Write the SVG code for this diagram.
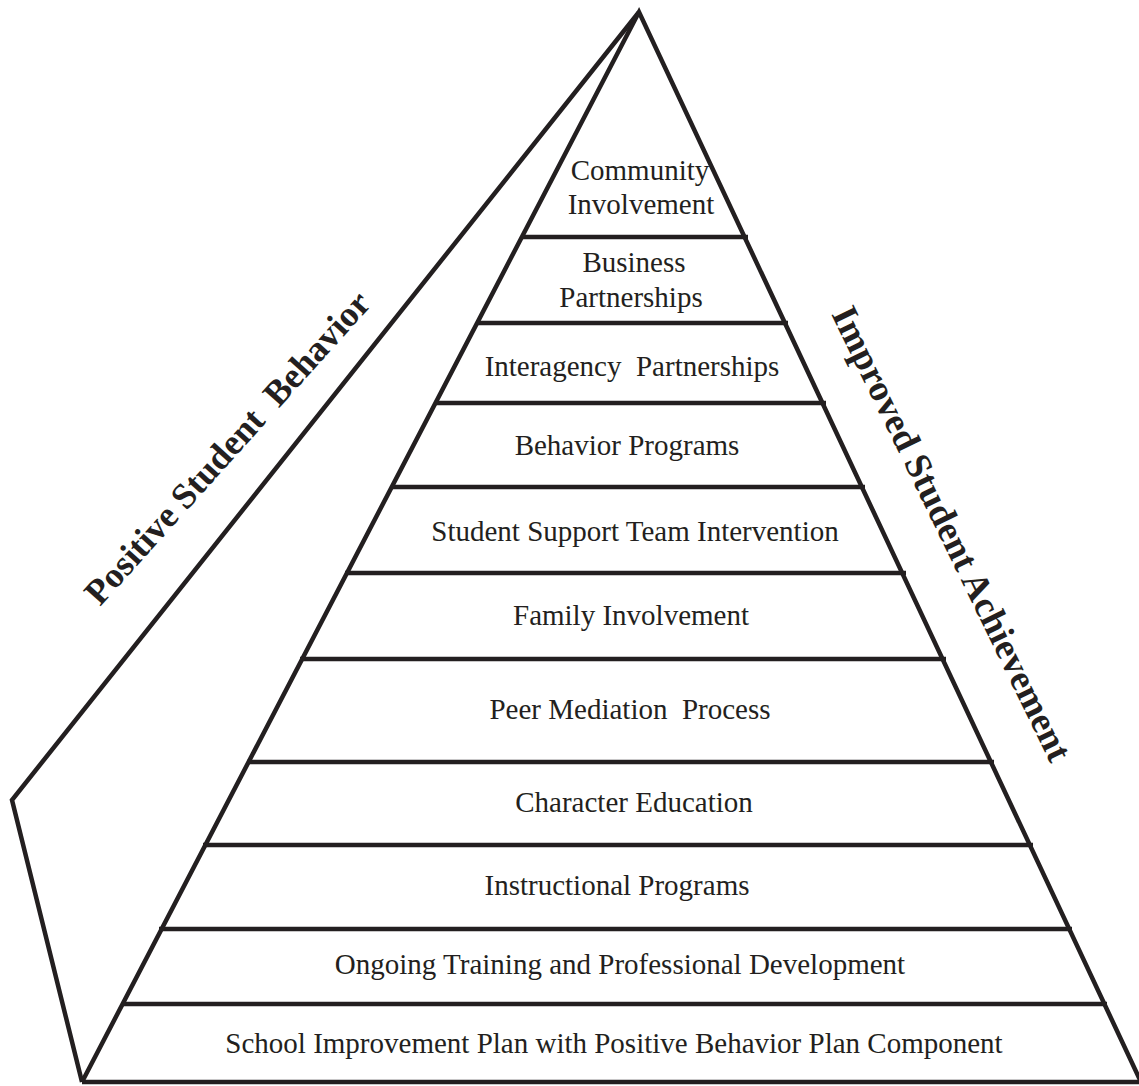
<svg xmlns="http://www.w3.org/2000/svg" width="1139" height="1086" viewBox="0 0 1139 1086">
<style>
.ln{stroke:#231f20;stroke-width:4.5;fill:none;stroke-linejoin:miter;stroke-linecap:butt}
.t{font-family:"Liberation Serif","Times New Roman",serif;font-size:29px;fill:#231f20;text-anchor:middle}
.b{font-family:"Liberation Serif","Times New Roman",serif;font-size:36px;font-weight:bold;fill:#231f20}
</style>
<rect width="1139" height="1086" fill="#fff"/>
<g id="connectors">
<path class="ln" d="M639,12 L12,800 L82,1082"/>
<path class="ln" d="M82,1082 L639,12 L1141,1082"/>
<path class="ln" d="M82,1082 H1139"/>
<path class="ln" d="M522,237 H748 M477,323 H788 M435,403 H826 M392,487 H865 M345,573 H906 M300,659 H946 M247,762 H994 M203,845 H1033 M159,929 H1072 M123,1004 H1107"/>
</g>
<g id="tier-community"><text class="t" x="640" y="180">Community</text><text class="t" x="641" y="214">Involvement</text></g>
<g id="tier-business"><text class="t" x="634" y="272">Business</text><text class="t" x="631" y="307">Partnerships</text></g>
<g id="tier-interagency"><text class="t" x="632" y="376">Interagency&#160; Partnerships</text></g>
<g id="tier-behavior"><text class="t" x="627" y="455">Behavior Programs</text></g>
<g id="tier-sst"><text class="t" x="635" y="541">Student Support Team Intervention</text></g>
<g id="tier-family"><text class="t" x="631" y="625">Family Involvement</text></g>
<g id="tier-peer"><text class="t" x="630" y="719">Peer Mediation&#160; Process</text></g>
<g id="tier-character"><text class="t" x="634" y="812">Character Education</text></g>
<g id="tier-instructional"><text class="t" x="617" y="895">Instructional Programs</text></g>
<g id="tier-training"><text class="t" x="620" y="974">Ongoing Training and Professional Development</text></g>
<g id="tier-sip"><text class="t" x="614" y="1053">School Improvement Plan with Positive Behavior Plan Component</text></g>
<g id="label-left"><text class="b" transform="translate(100,607) rotate(-48)">Positive Student&#160; Behavior</text></g>
<g id="label-right"><text class="b" style="font-size:37px" transform="translate(831,314) rotate(64)">Improved Student Achievement</text></g>
</svg>
